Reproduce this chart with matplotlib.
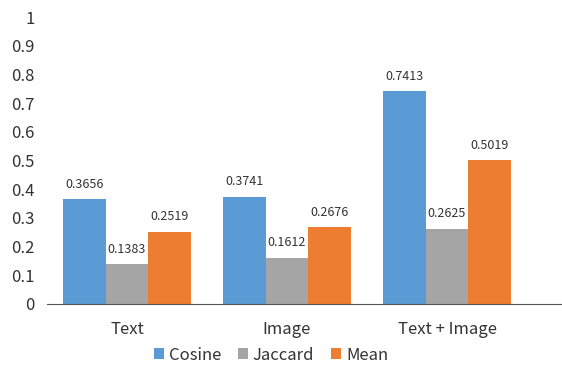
import matplotlib
matplotlib.use("Agg")
import matplotlib.pyplot as plt
import numpy as np

plt.rcParams['font.family'] = ['Noto Sans CJK KR', 'DejaVu Sans']

# data
categories = ['Text', 'Image', 'Text + Image']
series = ['Cosine', 'Jaccard', 'Mean']
cosine = [0.3656, 0.3741, 0.7413]
jaccard = [0.1383, 0.1612, 0.2625]
mean = [0.2519, 0.2676, 0.5019]
colors = ['#5B9BD5', '#A5A5A5', '#ED7D31']

fig = plt.figure(figsize=(5.62, 3.70), dpi=100)
ax = fig.add_axes([47/562, 1-304/370, 1-47/562, 287/370])

x = np.arange(len(categories))
w = 0.268
for i, (name, vals) in enumerate(zip(series, [cosine, jaccard, mean])):
    bars = ax.bar(x + (i-1)*w, vals, w, color=colors[i], label=name)
    for b, v in zip(bars, vals):
        ax.annotate('%.4f' % v, xy=(b.get_x()+b.get_width()/2, v), xytext=(0, 6),
                    textcoords='offset points', ha='center', va='bottom', fontsize=9, color='#333333')

ax.set_xlim(-0.5, (562-47)/160 - 0.5)
ax.set_ylim(0, 1)
ax.set_yticks(np.arange(0, 1.01, 0.1))
ax.set_yticklabels(['0'] + ['%.1f' % t for t in np.arange(0.1, 0.95, 0.1)] + ['1'])
ax.set_xticks(x)
ax.set_xticklabels(categories)
ax.tick_params(axis='y', length=0, pad=9, labelsize=12, labelcolor='#333333')
ax.tick_params(axis='x', length=0, pad=12, labelsize=12, labelcolor='#333333')
for s in ['top', 'right', 'left']:
    ax.spines[s].set_visible(False)
ax.spines['bottom'].set_color('#555555')

fig.legend(loc='center', bbox_to_anchor=(271/562, 1-355/370), ncol=3, frameon=False,
           fontsize=12, handlelength=0.6, handleheight=0.6, handletextpad=0.3,
           columnspacing=1.0, labelcolor='#333333')

fig.savefig('out.png', dpi=100)
